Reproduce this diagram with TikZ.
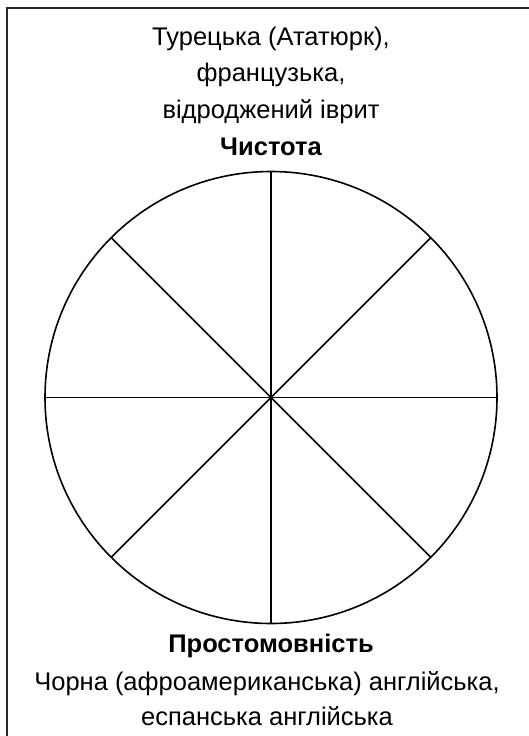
\documentclass[tikz,border=0pt]{standalone}
\usepackage{fontspec}
\setmainfont{Liberation Sans}
\usetikzlibrary{calc}
\begin{document}
\begin{tikzpicture}[x=1pt,y=-1pt,
  lbl/.style={anchor=base,font=\fontsize{25.5}{30}\selectfont,inner sep=0pt},
  ttl/.style={anchor=base,font=\fontsize{25.5}{30}\selectfont\bfseries,inner sep=0pt},
  spoke/.style={line width=1.6pt,draw=black}]
\useasboundingbox (0,0) rectangle (529,736);
\begin{scope}
\clip (0,0) rectangle (529,736);
\draw[line width=2pt,draw=black!85] (6.5,7.5) rectangle (560,770);
\end{scope}
\coordinate (c) at (271,397.5);
\draw[spoke] (c) circle (226);
\foreach \a in {0,45,...,315}{
  \coordinate (p\a) at ($(c)+(\a:226)$);
}
\draw[spoke] (p90) -- (p270);
\draw[spoke] (p0) -- (p180);
\draw[spoke] (p45) -- (p225);
\draw[spoke] (p135) -- (p315);
\node[lbl] (t1) at (271,45) {Турецька (Ататюрк),};
\node[lbl] (t2) at (271,81.5) {французька,};
\node[lbl] (t3) at (271,118) {відроджений іврит};
\node[ttl] (top) at (271,155) {Чистота};
\node[ttl] (bot) at (271,652) {Простомовність};
\node[lbl] (b1) at (267,690) {Чорна (афроамериканська) англійська,};
\node[lbl] (b2) at (267,725) {еспанська англійська};
\end{tikzpicture}
\end{document}
